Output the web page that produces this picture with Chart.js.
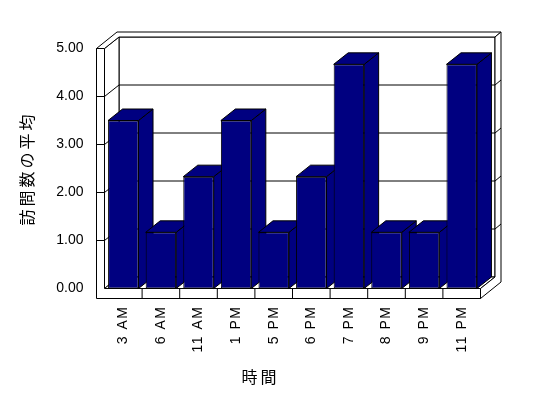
<!DOCTYPE html>
<html><head><meta charset="utf-8">
<script src="https://cdn.jsdelivr.net/npm/chart.js@4.4.1/dist/chart.umd.min.js"></script>
<style>html,body{margin:0;padding:0;background:#fff;}canvas{display:block;}</style>
</head><body>
<canvas id="c" width="548" height="398"></canvas>
<script>
// ---- data ----
const categories = ['3 AM', '6 AM', '11 AM', '1 PM', '5 PM', '6 PM', '7 PM', '8 PM', '9 PM', '11 PM'];
const averageVisits = [3.5, 1.17, 2.33, 3.5, 1.17, 2.33, 4.67, 1.17, 1.17, 4.67];
const yTickValues = [0, 1, 2, 3, 4, 5];
const yTitle = '訪問数の平均';
const xTitle = '時間';

// ---- style ----
const DEPTH = {x: 14.5, y: -11.5};   // front -> back wall front face
const BACK = {x: 20.5, y: -16.5};    // front -> back wall back face
const WALL_W = 8;
const FLOOR_H = 10;
const NAVY = '#000080';
const LATIN = '"Liberation Sans", Arial, sans-serif';
const CJK = '"Noto Sans CJK JP", sans-serif';

function poly(ctx, pts, fill, stroke) {
  ctx.beginPath();
  ctx.moveTo(pts[0][0], pts[0][1]);
  for (let i = 1; i < pts.length; i++) ctx.lineTo(pts[i][0], pts[i][1]);
  ctx.closePath();
  if (fill) { ctx.fillStyle = fill; ctx.fill(); }
  if (stroke) { ctx.strokeStyle = '#000'; ctx.lineWidth = 1; ctx.stroke(); }
}
function line(ctx, pts) {
  ctx.beginPath();
  ctx.moveTo(pts[0][0], pts[0][1]);
  for (let i = 1; i < pts.length; i++) ctx.lineTo(pts[i][0], pts[i][1]);
  ctx.strokeStyle = '#000'; ctx.lineWidth = 1; ctx.stroke();
}

const box3d = {
  id: 'box3d',
  afterLayout(chart) {
    const sx = chart.scales.x, sy = chart.scales.y;
    if (!sx.__ls) {
      const o = sx.drawLabels;
      sx.drawLabels = function (a) { const c = this.ctx, p = c.letterSpacing; c.letterSpacing = '1.5px'; o.call(this, a); c.letterSpacing = p; };
      sx.__ls = true;
    }
    if (!sy.__ls) {
      const o = sy.drawTitle;
      sy.drawTitle = function (a) { const c = this.ctx, p = c.letterSpacing; c.letterSpacing = '3px'; o.call(this, a); c.letterSpacing = p; };
      sy.__ls = true;
    }
  },
  beforeDatasetsDraw(chart) {
    const ctx = chart.ctx;
    const {left: L, right: R, top: T, bottom: B} = chart.chartArea;
    const Lo = L - WALL_W, Bo = B + FLOOR_H;
    const D = DEPTH, K = BACK;
    ctx.save();
    poly(ctx, [[L + D.x, T + D.y], [R + D.x, T + D.y], [R + D.x, B + D.y], [L + D.x, B + D.y]], '#fff', true);
    poly(ctx, [[L, T], [L + D.x, T + D.y], [L + D.x, B + D.y], [L, B]], '#fff', true);
    poly(ctx, [[L, B], [R, B], [R + D.x, B + D.y], [L + D.x, B + D.y]], '#fff', true);
    poly(ctx, [[Lo, T], [L, T], [L, B], [R, B], [R, Bo], [Lo, Bo]], '#fff', true);
    poly(ctx, [[Lo, T], [L, T], [L + D.x, T + D.y], [R + D.x, T + D.y], [R + K.x, T + K.y], [Lo + K.x, T + K.y]], '#fff', true);
    poly(ctx, [[R, B], [R + D.x, B + D.y], [R + D.x, T + D.y], [R + K.x, T + K.y], [R + K.x, Bo + K.y], [R, Bo]], '#fff', true);

    const ys = chart.scales.y;
    yTickValues.forEach(v => {
      if (v === ys.min || v === ys.max) return;
      const y = ys.getPixelForValue(v);
      line(ctx, [[Lo, y], [L, y], [L + D.x, y + D.y], [R + D.x, y + D.y], [R + K.x, y + K.y]]);
    });
    const xs = chart.scales.x;
    for (let i = 1; i < categories.length; i++) {
      const x = (xs.getPixelForValue(i - 1) + xs.getPixelForValue(i)) / 2;
      line(ctx, [[x, B], [x, Bo]]);
    }
    const meta = chart.getDatasetMeta(0);
    meta.data.forEach(bar => {
      const p = bar.getProps(['x', 'y', 'base', 'width'], true);
      const l = p.x - p.width / 2, r = p.x + p.width / 2, t = p.y, b = p.base;
      poly(ctx, [[r, t], [r + D.x, t + D.y], [r + D.x, b + D.y], [r, b]], NAVY, true);
      poly(ctx, [[l, t], [r, t], [r + D.x, t + D.y], [l + D.x, t + D.y]], NAVY, true);
    });
    ctx.restore();
  },
  afterDraw(chart) {
    const ctx = chart.ctx;
    ctx.save();
    ctx.font = '16px ' + CJK;
    ctx.fillStyle = '#000';
    ctx.textAlign = 'center';
    ctx.textBaseline = 'middle';
    ctx.letterSpacing = '3px';
    ctx.fillText(xTitle, 260.5, 377);
    ctx.restore();
  }
};

new Chart(document.getElementById('c'), {
  type: 'bar',
  data: {
    labels: categories,
    datasets: [{
      data: averageVisits,
      backgroundColor: NAVY,
      borderColor: '#000',
      borderWidth: 1,
      borderSkipped: false,
      categoryPercentage: 1,
      barPercentage: 0.81
    }]
  },
  options: {
    responsive: false,
    animation: false,
    devicePixelRatio: 1,
    layout: {padding: {top: 48.5, right: 67.5, bottom: 0, left: 0}},
    plugins: {legend: {display: false}, tooltip: {enabled: false}},
    scales: {
      x: {
        grid: {display: false, drawTicks: false},
        border: {display: false},
        ticks: {
          color: '#000', font: {family: LATIN, size: 14},
          maxRotation: 90, minRotation: 90, autoSkip: false, padding: 17
        },
        afterFit(s) { s.height = 398 - 288.5; }
      },
      y: {
        min: 0, max: 5,
        grid: {display: false, drawTicks: false},
        border: {display: false},
        ticks: {
          stepSize: 1, color: '#000', font: {family: LATIN, size: 14}, padding: 21,
          callback: v => Number(v).toFixed(2)
        },
        title: {
          display: true, text: yTitle, color: '#000',
          font: {family: CJK, size: 16}, padding: {top: 17, bottom: 0}
        },
        afterFit(s) { s.width = 104.5; }
      }
    }
  },
  plugins: [box3d]
});
</script>
</body></html>
